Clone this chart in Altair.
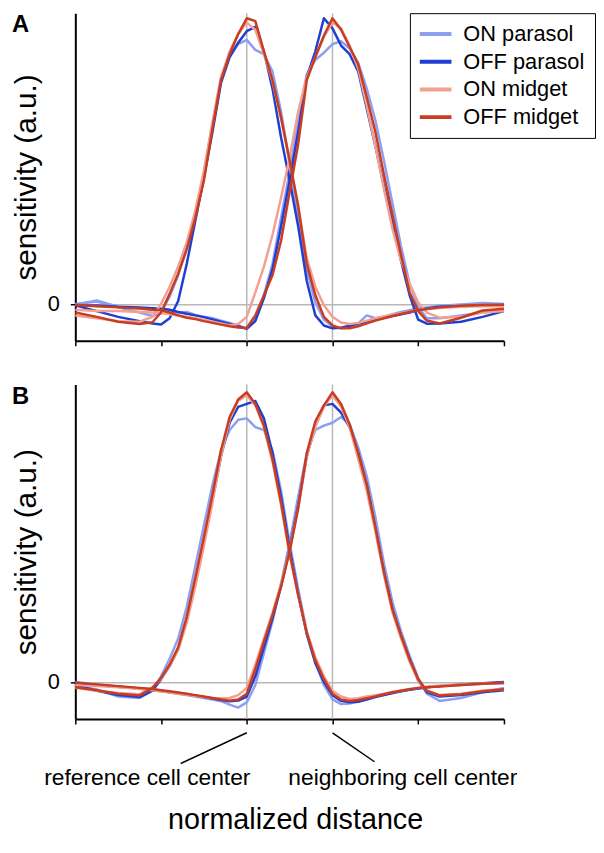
import altair as alt
import pandas as pd

# ---------------- data ----------------
X = [-2.0, -1.75, -1.5, -1.25, -1.1, -1.0, -0.9, -0.8, -0.7, -0.6, -0.5, -0.4, -0.3, -0.2, -0.1,
     0.0, 0.1, 0.2, 0.3, 0.4, 0.5, 0.6, 0.7, 0.8, 0.9, 1.0, 1.1, 1.2, 1.3, 1.4, 1.5, 1.6, 1.7,
     1.8, 1.9, 2.0, 2.1, 2.25, 2.5, 2.75, 3.0]
TICKS = [-2, -1, 0, 1, 2, 3]
CENTERS = [0, 1]
TYPES = ["ON parasol", "OFF parasol", "ON midget", "OFF midget"]
COLORS = ["#8c9ff2", "#1f3fd0", "#f2a090", "#c83c22"]

# Panel A - reference cell profiles
A_REF_ON_PARASOL = [0.000, 0.008, -0.012, -0.030, -0.042, -0.030, 0.025, 0.100, 0.200, 0.315,
                    0.455, 0.625, 0.790, 0.860, 0.905, 0.920, 0.885, 0.870, 0.810, 0.670,
                    0.490, 0.300, 0.120, 0.005, -0.055, -0.078, -0.085, -0.080, -0.068, -0.040,
                    -0.050, -0.045, -0.036, -0.028, -0.022, -0.016, -0.012, -0.006, -0.002, 0.003, 0.000]
A_REF_OFF_PARASOL = [-0.005, -0.025, -0.045, -0.060, -0.068, -0.072, -0.050, 0.010, 0.140, 0.290,
                     0.440, 0.600, 0.770, 0.860, 0.910, 0.950, 0.965, 0.880, 0.750, 0.580,
                     0.430, 0.270, 0.080, -0.040, -0.075, -0.085, -0.083, -0.076, -0.068, -0.062,
                     -0.055, -0.048, -0.042, -0.036, -0.030, -0.022, -0.016, -0.010, -0.008, -0.005, -0.004]
A_REF_ON_MIDGET = [-0.040, -0.050, -0.060, -0.062, -0.045, 0.000, 0.060, 0.130, 0.215, 0.325,
                   0.465, 0.635, 0.790, 0.880, 0.940, 0.980, 0.955, 0.870, 0.775, 0.645,
                   0.495, 0.340, 0.160, 0.060, -0.005, -0.045, -0.065, -0.070, -0.066, -0.058,
                   -0.050, -0.044, -0.038, -0.032, -0.027, -0.022, -0.018, -0.014, -0.010, -0.008, -0.008]
A_REF_OFF_MIDGET = [-0.030, -0.045, -0.062, -0.070, -0.064, -0.030, 0.035, 0.105, 0.190, 0.300,
                    0.430, 0.610, 0.780, 0.870, 0.940, 0.995, 0.985, 0.880, 0.780, 0.650,
                    0.500, 0.340, 0.140, 0.030, -0.045, -0.075, -0.085, -0.085, -0.078, -0.068,
                    -0.058, -0.050, -0.042, -0.035, -0.028, -0.022, -0.018, -0.012, -0.006, -0.004, -0.003]
# Panel A - neighboring cell profiles
A_NB_ON_PARASOL = [-0.003, 0.012, -0.010, -0.015, -0.020, -0.018, -0.025, -0.030, -0.028, -0.038,
                   -0.045, -0.050, -0.058, -0.066, -0.075, -0.088, -0.055, 0.030, 0.140, 0.300,
                   0.460, 0.640, 0.800, 0.850, 0.875, 0.905, 0.915, 0.890, 0.840, 0.750,
                   0.640, 0.500, 0.350, 0.200, 0.070, -0.010, -0.050, -0.050, -0.040, -0.030, -0.020]
A_NB_OFF_PARASOL = [-0.006, -0.005, -0.010, -0.012, -0.015, -0.017, -0.020, -0.028, -0.034, -0.040,
                    -0.046, -0.054, -0.062, -0.070, -0.078, -0.086, -0.060, 0.020, 0.120, 0.270,
                    0.430, 0.600, 0.790, 0.880, 0.995, 0.960, 0.900, 0.870, 0.810, 0.680,
                    0.550, 0.410, 0.290, 0.150, 0.030, -0.055, -0.069, -0.068, -0.062, -0.045, -0.025]
A_NB_ON_MIDGET = [-0.020, -0.025, -0.025, -0.028, -0.030, -0.032, -0.036, -0.040, -0.045, -0.050,
                  -0.056, -0.062, -0.068, -0.074, -0.070, -0.045, 0.040, 0.130, 0.240, 0.370,
                  0.510, 0.670, 0.790, 0.860, 0.930, 0.980, 0.960, 0.900, 0.820, 0.690,
                  0.550, 0.400, 0.260, 0.150, 0.070, 0.005, -0.030, -0.048, -0.045, -0.030, -0.025]
A_NB_OFF_MIDGET = [-0.003, -0.008, -0.012, -0.016, -0.020, -0.022, -0.030, -0.040, -0.048, -0.053,
                   -0.060, -0.066, -0.072, -0.078, -0.082, -0.084, -0.040, 0.030, 0.100, 0.220,
                   0.390, 0.557, 0.780, 0.860, 0.935, 0.995, 0.955, 0.895, 0.835, 0.720,
                   0.600, 0.450, 0.310, 0.170, 0.040, -0.025, -0.058, -0.068, -0.048, -0.023, -0.017]

# Panel B - reference cell profiles
B_REF_ON_PARASOL = [-0.015, -0.025, -0.050, -0.055, -0.030, 0.020, 0.080, 0.150, 0.260, 0.400,
                    0.540, 0.680, 0.800, 0.870, 0.905, 0.910, 0.880, 0.870, 0.800, 0.660,
                    0.480, 0.320, 0.175, 0.070, -0.010, -0.060, -0.076, -0.074, -0.066, -0.058,
                    -0.050, -0.044, -0.038, -0.032, -0.026, -0.022, -0.018, -0.014, -0.010, -0.006, -0.004]
B_REF_OFF_PARASOL = [-0.010, -0.030, -0.045, -0.052, -0.030, 0.010, 0.055, 0.115, 0.215, 0.345,
                     0.485, 0.630, 0.780, 0.895, 0.950, 0.960, 0.970, 0.910, 0.790, 0.640,
                     0.460, 0.305, 0.165, 0.065, 0.000, -0.045, -0.065, -0.070, -0.068, -0.060,
                     -0.052, -0.045, -0.038, -0.032, -0.027, -0.022, -0.018, -0.014, -0.008, -0.004, 0.000]
B_REF_ON_MIDGET = [-0.020, -0.030, -0.038, -0.042, -0.018, 0.012, 0.055, 0.110, 0.205, 0.330,
                   0.470, 0.620, 0.780, 0.905, 0.970, 0.990, 0.955, 0.880, 0.760, 0.610,
                   0.440, 0.300, 0.175, 0.085, 0.020, -0.030, -0.050, -0.058, -0.056, -0.050,
                   -0.045, -0.040, -0.034, -0.029, -0.024, -0.020, -0.016, -0.012, -0.008, -0.005, -0.003]
B_REF_OFF_MIDGET = [-0.018, -0.028, -0.040, -0.046, -0.020, 0.015, 0.060, 0.120, 0.225, 0.360,
                    0.500, 0.647, 0.800, 0.915, 0.975, 1.000, 0.960, 0.885, 0.770, 0.620,
                    0.445, 0.300, 0.170, 0.075, 0.010, -0.040, -0.060, -0.065, -0.062, -0.056,
                    -0.050, -0.042, -0.035, -0.030, -0.025, -0.020, -0.018, -0.015, -0.010, -0.006, -0.002]
# Panel B - neighboring cell profiles
B_NB_ON_PARASOL = [0.000, -0.008, -0.015, -0.022, -0.028, -0.032, -0.036, -0.040, -0.045, -0.050,
                   -0.055, -0.060, -0.066, -0.078, -0.088, -0.070, -0.010, 0.100, 0.210, 0.340,
                   0.480, 0.640, 0.790, 0.870, 0.885, 0.895, 0.915, 0.890, 0.810, 0.710,
                   0.570, 0.410, 0.275, 0.175, 0.090, 0.015, -0.040, -0.065, -0.055, -0.035, -0.020]
B_NB_OFF_PARASOL = [-0.002, -0.010, -0.016, -0.022, -0.026, -0.030, -0.034, -0.038, -0.042, -0.047,
                    -0.052, -0.057, -0.062, -0.066, -0.064, -0.050, 0.020, 0.120, 0.220, 0.330,
                    0.460, 0.610, 0.780, 0.890, 0.955, 0.960, 0.930, 0.880, 0.790, 0.680,
                    0.530, 0.380, 0.250, 0.160, 0.080, 0.005, -0.035, -0.050, -0.045, -0.035, -0.028]
B_NB_ON_MIDGET = [-0.010, -0.014, -0.018, -0.024, -0.028, -0.032, -0.036, -0.040, -0.044, -0.048,
                  -0.052, -0.055, -0.056, -0.055, -0.045, -0.020, 0.060, 0.150, 0.240, 0.340,
                  0.455, 0.600, 0.780, 0.880, 0.950, 0.990, 0.950, 0.880, 0.770, 0.660,
                  0.520, 0.370, 0.240, 0.150, 0.070, 0.005, -0.030, -0.045, -0.040, -0.030, -0.024]
B_NB_OFF_MIDGET = [-0.002, -0.008, -0.014, -0.020, -0.024, -0.028, -0.032, -0.036, -0.040, -0.045,
                   -0.050, -0.055, -0.060, -0.064, -0.060, -0.040, 0.045, 0.140, 0.230, 0.330,
                   0.450, 0.600, 0.790, 0.900, 0.955, 1.000, 0.960, 0.890, 0.790, 0.680,
                   0.535, 0.380, 0.250, 0.160, 0.078, 0.010, -0.030, -0.046, -0.042, -0.032, -0.025]

# annotations below panel B
ANN_LABELS = ["reference cell center", "neighboring cell center"]
ANN_TEXT_X = [-1.16, 1.82]
ANN_TEXT_Y = [-0.356, -0.356]
ANN_LINE_X = [0.0, 1.0]
ANN_LINE_X2 = [-0.77, 1.49]
ANN_LINE_Y = [-0.175, -0.175]
ANN_LINE_Y2 = [-0.281, -0.275]

FONT = "Liberation Sans"


def curves_df(ref_lists, nb_lists):
    rows = []
    for t, ref, nb in zip(TYPES, ref_lists, nb_lists):
        for cell, vals in (("reference", ref), ("neighbor", nb)):
            assert len(vals) == len(X), (t, cell, len(vals))
            for x, y in zip(X, vals):
                rows.append({"x": x, "y": y, "type": t, "cell": cell})
    return pd.DataFrame(rows)


dfA = curves_df([A_REF_ON_PARASOL, A_REF_OFF_PARASOL, A_REF_ON_MIDGET, A_REF_OFF_MIDGET],
                [A_NB_ON_PARASOL, A_NB_OFF_PARASOL, A_NB_ON_MIDGET, A_NB_OFF_MIDGET])
dfB = curves_df([B_REF_ON_PARASOL, B_REF_OFF_PARASOL, B_REF_ON_MIDGET, B_REF_OFF_MIDGET],
                [B_NB_ON_PARASOL, B_NB_OFF_PARASOL, B_NB_ON_MIDGET, B_NB_OFF_MIDGET])


def panel(df, lo, hi, h, letter, letter_y, legend, bottom):
    xscale = alt.Scale(domain=[-2, 3], nice=False, zero=False)
    yscale = alt.Scale(domain=[lo, hi], nice=False, zero=False)
    if bottom:
        xaxis = alt.Axis(values=TICKS, labels=False, grid=False, tickSize=5,
                         title="normalized distance", titleFontSize=29, titlePadding=82,
                         titleX=222)
    else:
        xaxis = alt.Axis(values=TICKS, labels=False, grid=False, tickSize=5, title=None)
    yaxis = alt.Axis(values=[0], grid=True, gridColor="#b8b8b8", gridWidth=1.5,
                     tickSize=5, labelFontSize=22, labelPadding=11,
                     title="sensitivity (a.u.)", titleFontSize=30, titlePadding=6)

    grid = alt.Chart(pd.DataFrame({"x": CENTERS})).mark_rule(
        color="#b8b8b8", strokeWidth=1.5
    ).encode(x=alt.X("x:Q", scale=xscale, axis=xaxis))

    color = alt.Color("type:N", scale=alt.Scale(domain=TYPES, range=COLORS),
                      legend=legend)
    lines = alt.Chart(df).mark_line(strokeWidth=2.5, strokeJoin="round").encode(
        x=alt.X("x:Q", scale=xscale, axis=xaxis),
        y=alt.Y("y:Q", scale=yscale, axis=yaxis),
        color=color,
        detail="cell:N",
    )
    letter_layer = alt.Chart(pd.DataFrame({"t": [letter]})).mark_text(
        align="left", baseline="top", fontSize=24, fontWeight="bold", font=FONT, color="black"
    ).encode(text="t:N", x=alt.value(-64), y=alt.value(letter_y))

    layers = [grid, lines, letter_layer]
    if bottom:
        ann_lines = alt.Chart(pd.DataFrame({
            "x": ANN_LINE_X, "x2": ANN_LINE_X2, "y": ANN_LINE_Y, "y2": ANN_LINE_Y2
        })).mark_rule(color="black", strokeWidth=1.5).encode(
            x=alt.X("x:Q", scale=xscale, axis=xaxis), x2="x2:Q",
            y=alt.Y("y:Q", scale=yscale, axis=yaxis), y2="y2:Q",
        )
        ann_text = alt.Chart(pd.DataFrame({
            "x": ANN_TEXT_X, "y": ANN_TEXT_Y, "label": ANN_LABELS
        })).mark_text(fontSize=23, font=FONT, align="center", baseline="alphabetic",
                      color="black").encode(
            x=alt.X("x:Q", scale=xscale, axis=xaxis),
            y=alt.Y("y:Q", scale=yscale, axis=yaxis),
            text="label:N",
        )
        layers += [ann_lines, ann_text]
    return alt.layer(*layers).properties(width=433, height=h)


legendA = alt.Legend(
    title=None, orient="none", legendX=338, legendY=0, direction="vertical",
    symbolType="M-2,0H2", symbolSize=256, symbolStrokeWidth=4,
    labelFontSize=22, labelFont=FONT, labelColor="black", labelLimit=400,
    strokeColor="black", fillColor="white", padding=10, rowPadding=6,
    symbolOffset=5, labelOffset=17,
)

pA = panel(dfA, -0.1286, 1.0128, 331, "A", 0, legendA, False)
pB = panel(dfB, -0.1274, 1.0273, 338, "B", 1, None, True)

chart = (
    alt.vconcat(pA, pB, spacing=37)
    .resolve_scale(color="independent")
    .resolve_legend(color="independent")
    .properties(padding={"left": 3, "top": 0, "right": 0, "bottom": 0})
    .configure_view(stroke=None)
    .configure_axis(domainColor="black", domainWidth=2, tickColor="black", tickWidth=1.5,
                    labelFont=FONT, titleFont=FONT, labelColor="black", titleColor="black",
                    titleFontWeight="normal")
)

chart.save("out.html", embed_options={"renderer": "svg", "actions": False})
